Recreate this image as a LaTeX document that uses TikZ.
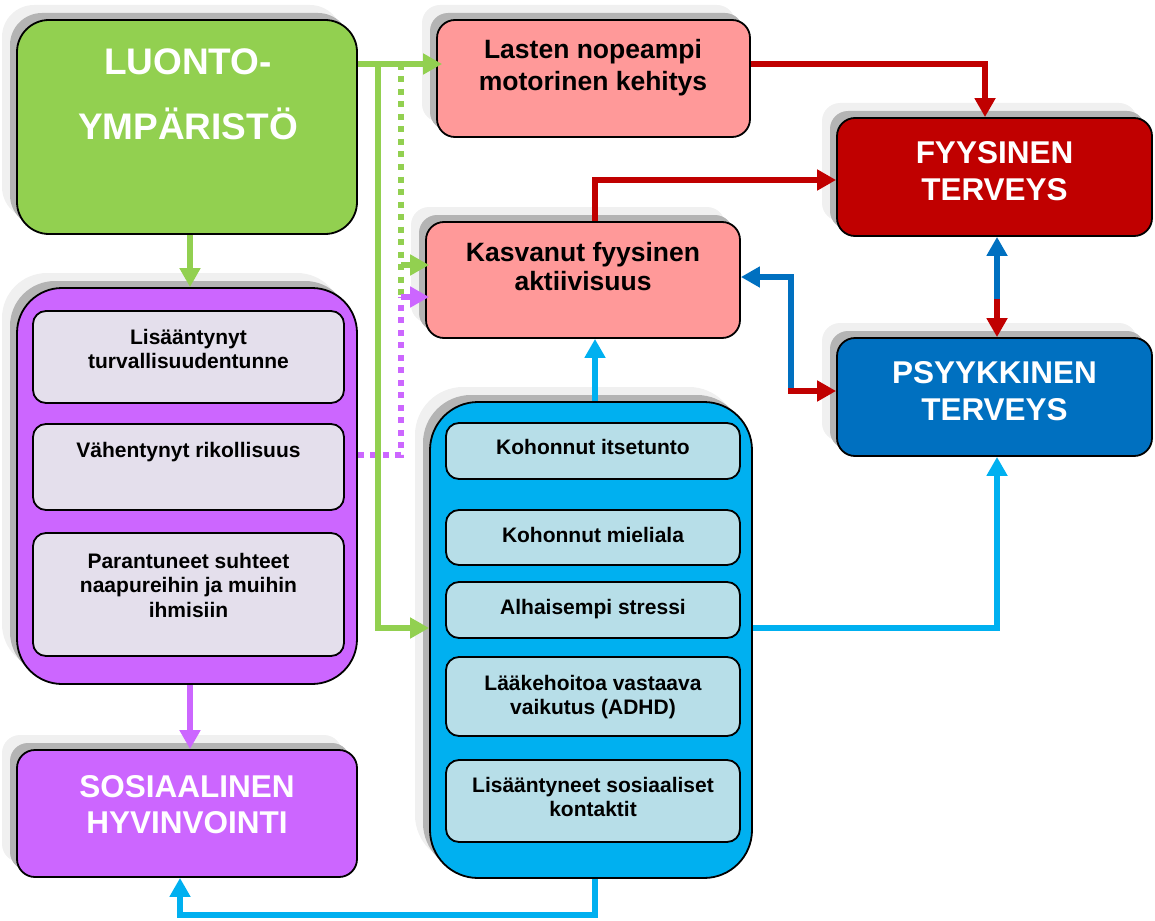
\documentclass[tikz,border=0pt]{standalone}
\usepackage{fontspec}
\setmainfont{Liberation Sans}
\usetikzlibrary{arrows.meta,shadows,calc}

\definecolor{cgreen}{HTML}{92D050}
\definecolor{cpink}{HTML}{FF9999}
\definecolor{cpurple}{HTML}{CC66FF}
\definecolor{clav}{HTML}{E4DFEC}
\definecolor{ccyan}{HTML}{00B0F0}
\definecolor{cpale}{HTML}{B7DEE8}
\definecolor{cred}{HTML}{C00000}
\definecolor{cblue}{HTML}{0070C0}
\definecolor{shdark}{HTML}{B4B4B4}
\definecolor{shlight}{HTML}{F0F0F0}

\begin{document}
\begin{tikzpicture}[x=1pt,y=-1pt,
  boxshadow/.style={
    general shadow={fill=shlight,shadow xshift=-15pt,shadow yshift=15pt},
    general shadow={fill=shdark,shadow xshift=-7pt,shadow yshift=7pt}},
  panel/.style={rectangle,draw=black,line width=1.8pt,inner sep=0pt,boxshadow},
  subbox/.style={rectangle,draw=black,line width=1.8pt,inner sep=0pt,rounded corners=13pt},
  bigtxt/.style={align=center,inner sep=0pt,text=white,font=\bfseries\fontsize{31.5}{37.5}\selectfont},
  midtxt/.style={align=center,inner sep=0pt,text=black,font=\bfseries\fontsize{26.5}{31}\selectfont},
  smalltxt/.style={align=center,inner sep=0pt,text=black,font=\bfseries\fontsize{21}{24.5}\selectfont},
  arr/.style={line width=5.5pt,-{Triangle[length=19pt,width=20pt]}},
  dotline/.style={line width=6pt,dash pattern=on 6pt off 6.5pt}
]
\useasboundingbox (0,0) rectangle (1155,920);

% --- main panels ---
\node[panel,fill=cgreen,rounded corners=32pt,minimum width=340pt,minimum height=214pt] (luonto) at (187,127) {};
\node[panel,fill=cpink,rounded corners=18pt,minimum width=313pt,minimum height=117pt] (lasten) at (593.5,78.5) {};
\node[panel,fill=cpink,rounded corners=18pt,minimum width=314pt,minimum height=116pt] (kasv) at (583,280) {};
\node[panel,fill=cred,rounded corners=18pt,minimum width=315pt,minimum height=118pt] (fyy) at (994.5,177) {};
\node[panel,fill=cblue,rounded corners=18pt,minimum width=315pt,minimum height=118pt] (psy) at (994.5,397) {};
\node[panel,fill=cpurple,rounded corners=45pt,minimum width=340pt,minimum height=396pt] (purp) at (187,486) {};
\node[panel,fill=cpurple,rounded corners=18pt,minimum width=340pt,minimum height=127pt] (sos) at (187,813.5) {};
\node[panel,fill=ccyan,rounded corners=48pt,minimum width=322pt,minimum height=476pt] (blue) at (591,640) {};

% --- boxes inside the purple panel ---
\node[subbox,fill=clav,minimum width=311pt,minimum height=92pt] (l1) at (188.5,357) {};
\node[subbox,fill=clav,minimum width=311pt,minimum height=86pt] (l2) at (188.5,467) {};
\node[subbox,fill=clav,minimum width=311pt,minimum height=123pt] (l3) at (188.5,594.5) {};

% --- boxes inside the cyan panel ---
\node[subbox,fill=cpale,minimum width=294pt,minimum height=56pt] (b1) at (593,451) {};
\node[subbox,fill=cpale,minimum width=294pt,minimum height=55pt] (b2) at (593,537.5) {};
\node[subbox,fill=cpale,minimum width=294pt,minimum height=56pt] (b3) at (593,610) {};
\node[subbox,fill=cpale,minimum width=294pt,minimum height=79pt] (b4) at (593,696.5) {};
\node[subbox,fill=cpale,minimum width=294pt,minimum height=82pt] (b5) at (593,801) {};

% --- texts ---
\node[bigtxt,font=\bfseries\fontsize{37}{65}\selectfont] (luonto-t) at (188,94) {LUONTO-\\YMPÄRISTÖ};
\node[midtxt,font=\bfseries\fontsize{26.5}{31.7}\selectfont] (lasten-t) at (593,67.5) {Lasten nopeampi\\motorinen kehitys};
\node[midtxt,font=\bfseries\fontsize{26.5}{29}\selectfont] (kasv-t) at (583,266.5) {Kasvanut fyysinen\\aktiivisuus};
\node[bigtxt] (fyy-t) at (994.5,171) {FYYSINEN\\TERVEYS};
\node[bigtxt] (psy-t) at (994.5,391) {PSYYKKINEN\\TERVEYS};
\node[bigtxt,font=\bfseries\fontsize{31.5}{36.7}\selectfont] (sos-t) at (187,804.5) {SOSIAALINEN\\HYVINVOINTI};
\node[smalltxt] (l1-t) at (188.5,349) {Lisääntynyt\\turvallisuudentunne};
\node[smalltxt] (l2-t) at (188.5,452.5) {Vähentynyt rikollisuus};
\node[smalltxt] (l3-t) at (188.5,585) {Parantuneet suhteet\\naapureihin ja muihin\\ihmisiin};
\node[smalltxt] (b1-t) at (593,446.5) {Kohonnut itsetunto};
\node[smalltxt] (b2-t) at (593,535) {Kohonnut mieliala};
\node[smalltxt] (b3-t) at (593,609) {Alhaisempi stressi};
\node[smalltxt] (b4-t) at (593,697) {Lääkehoitoa vastaava\\vaikutus (ADHD)};
\node[smalltxt] (b5-t) at (593,797) {Lisääntyneet sosiaaliset\\kontaktit};

% --- routing rows and columns ---
\coordinate (rowtop) at (0,64);
\coordinate (rowgk) at (0,265);
\coordinate (rowpk) at (0,297);
\coordinate (rowvr) at (0,455);
\coordinate (rowgb) at (0,628);
\coordinate (rowred) at (0,180);
\coordinate (rowsplit) at (0,299);
\coordinate (rowkb) at (0,277);
\coordinate (rowkp) at (0,391);
\coordinate (rowbot) at (0,915);
\coordinate (colleft) at (190,0);
\coordinate (colgreen) at (378,0);
\coordinate (coldot) at (401,0);
\coordinate (colkas) at (595,0);
\coordinate (colkb) at (791,0);
\coordinate (colred) at (985,0);
\coordinate (colmid) at (997,0);
\coordinate (colsos) at (180,0);

% --- dotted links into physical activity ---
\draw[dotline,cpurple] (purp.east |- rowvr) -- (coldot |- rowvr) -- (coldot |- rowpk);
\draw[dotline,cgreen] (coldot |- rowtop) -- (coldot |- rowpk);
\draw[arr,cgreen,shorten >=-4pt] (coldot |- rowgk) -- (kasv.west |- rowgk);
\draw[arr,cpurple,shorten >=-4pt] (coldot |- rowpk) -- (kasv.west |- rowpk);

% --- green links from the natural environment ---
\draw[arr,cgreen,shorten >=-6pt] (luonto.east |- rowtop) -- (lasten.west |- rowtop);
\draw[arr,cgreen] (colgreen |- rowtop) -- (colgreen |- rowgb) -- (blue.west |- rowgb);
\draw[arr,cgreen] (luonto.south -| colleft) -- (purp.north -| colleft);

% --- social chain ---
\draw[arr,cpurple] (purp.south -| colleft) -- (sos.north -| colleft);

% --- red links to physical health ---
\draw[arr,cred] (lasten.east |- rowtop) -| (fyy.north -| colred);
\draw[arr,cred] (kasv.north -| colkas) |- (fyy.west |- rowred);

% --- two-way link between physical and mental health ---
\draw[arr,cblue] (colmid |- rowsplit) -- (fyy.south -| colmid);
\draw[arr,cred] (colmid |- rowsplit) -- (psy.north -| colmid);

% --- two-way link between activity and mental health ---
\draw[arr,cblue,line cap=rect] (colkb |- rowkp) -- (colkb |- rowkb) -- (kasv.east |- rowkb);
\draw[arr,cred,line cap=rect] (colkb |- rowkp) -- (psy.west |- rowkp);

% --- cyan links from the psychological effects ---
\draw[arr,ccyan] (blue.north -| colkas) -- (kasv.south -| colkas);
\draw[arr,ccyan] (blue.east |- rowgb) -| (psy.south -| colmid);
\draw[arr,ccyan] (blue.south -| colkas) -- (colkas |- rowbot) -| (sos.south -| colsos);
\end{tikzpicture}
\end{document}
